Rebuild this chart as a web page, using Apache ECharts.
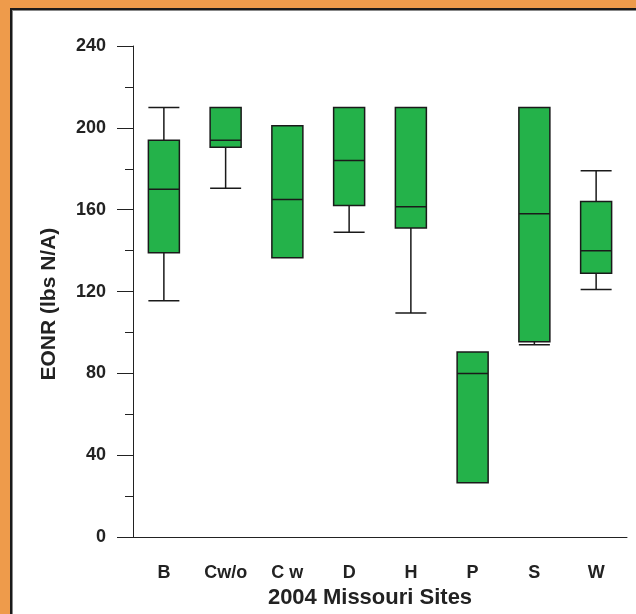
<!DOCTYPE html>
<html>
<head>
<meta charset="utf-8">
<script src="https://cdn.jsdelivr.net/npm/echarts@6/dist/echarts.min.js"></script>
<style>
html,body{margin:0;padding:0;background:#fff;}
#chart{width:636px;height:614px;}
</style>
</head>
<body>
<div id="chart"></div>
<script>
const categories = ['B', 'Cw/o', 'C w', 'D', 'H', 'P', 'S', 'W'];
// [min, Q1, median, Q3, max]
const boxMin    = [115.5, 170.5, 136.5, 149, 109.5, 26.5, 94,   121];
const boxQ1     = [139,   190.5, 136.5, 162, 151,   26.5, 95.5, 129];
const boxMedian = [170,   194,   165,   184, 161.5, 80,   158,  140];
const boxQ3     = [194,   210,   201,   210, 210,   90.5, 210,  164];
const boxMax    = [210,   210,   201,   210, 210,   90.5, 210,  179];
const yTicks = [0, 40, 80, 120, 160, 200, 240];

const boxData = categories.map((c, i) => [boxMin[i], boxQ1[i], boxMedian[i], boxQ3[i], boxMax[i]]);
const FONT = '"Liberation Sans", Arial, Helvetica, sans-serif';
const ORANGE = '#EE9B4B';

const chart = echarts.init(document.getElementById('chart'));
chart.setOption({
  animation: false,
  backgroundColor: '#ffffff',
  grid: { left: 133, right: 9, top: 46, bottom: 73, containLabel: false },
  xAxis: {
    type: 'category',
    data: categories,
    boundaryGap: true,
    name: '2004 Missouri Sites',
    nameLocation: 'middle',
    nameGap: 46,
    nameTextStyle: { fontFamily: FONT, fontWeight: 'bold', fontSize: 22, color: '#222', padding: [0, 20, 0, 0] },
    axisLine: { lineStyle: { color: '#222', width: 1 } },
    axisTick: { alignWithLabel: true, length: 15, lineStyle: { color: '#222' } },
    axisLabel: { fontFamily: FONT, fontWeight: 'bold', fontSize: 18, color: '#222', margin: 27 },
    splitLine: { show: false }
  },
  yAxis: {
    type: 'value',
    min: yTicks[0],
    max: yTicks[yTicks.length - 1],
    interval: 40,
    name: 'EONR (lbs N/A)',
    nameLocation: 'middle',
    nameGap: 73,
    nameTextStyle: { fontFamily: FONT, fontWeight: 'bold', fontSize: 21, color: '#222', padding: [0, 25, 0, 0] },
    axisLine: { show: true, lineStyle: { color: '#222', width: 1 } },
    axisTick: { show: true, length: 16, lineStyle: { color: '#222' } },
    minorTick: { show: true, splitNumber: 2, length: 8, lineStyle: { color: '#222' } },
    axisLabel: { fontFamily: FONT, fontWeight: 'bold', fontSize: 18, color: '#222', margin: 27 },
    splitLine: { show: false },
    minorSplitLine: { show: false }
  },
  graphic: [
    { type: 'rect', shape: { x: 0, y: 0, width: 636, height: 8 }, style: { fill: ORANGE }, z: 100 },
    { type: 'rect', shape: { x: 0, y: 0, width: 10, height: 614 }, style: { fill: ORANGE }, z: 100 },
    { type: 'line', shape: { x1: 10, y1: 9, x2: 636, y2: 9 }, style: { stroke: '#1a1a1a', lineWidth: 2 }, z: 100 },
    { type: 'line', shape: { x1: 11, y1: 8, x2: 11, y2: 614 }, style: { stroke: '#1a1a1a', lineWidth: 2 }, z: 100 },
    { type: 'line', shape: { x1: 12, y1: 10.5, x2: 636, y2: 10.5 }, style: { stroke: '#888', lineWidth: 1 }, z: 100 },
    { type: 'line', shape: { x1: 12.5, y1: 10, x2: 12.5, y2: 614 }, style: { stroke: '#888', lineWidth: 1 }, z: 100 }
  ],
  series: [{
    type: 'boxplot',
    data: boxData,
    boxWidth: [31, 31],
    itemStyle: { color: '#24B24A', borderColor: '#1a1a1a', borderWidth: 1.5 },
    emphasis: { disabled: true }
  }]
});
</script>
</body>
</html>
